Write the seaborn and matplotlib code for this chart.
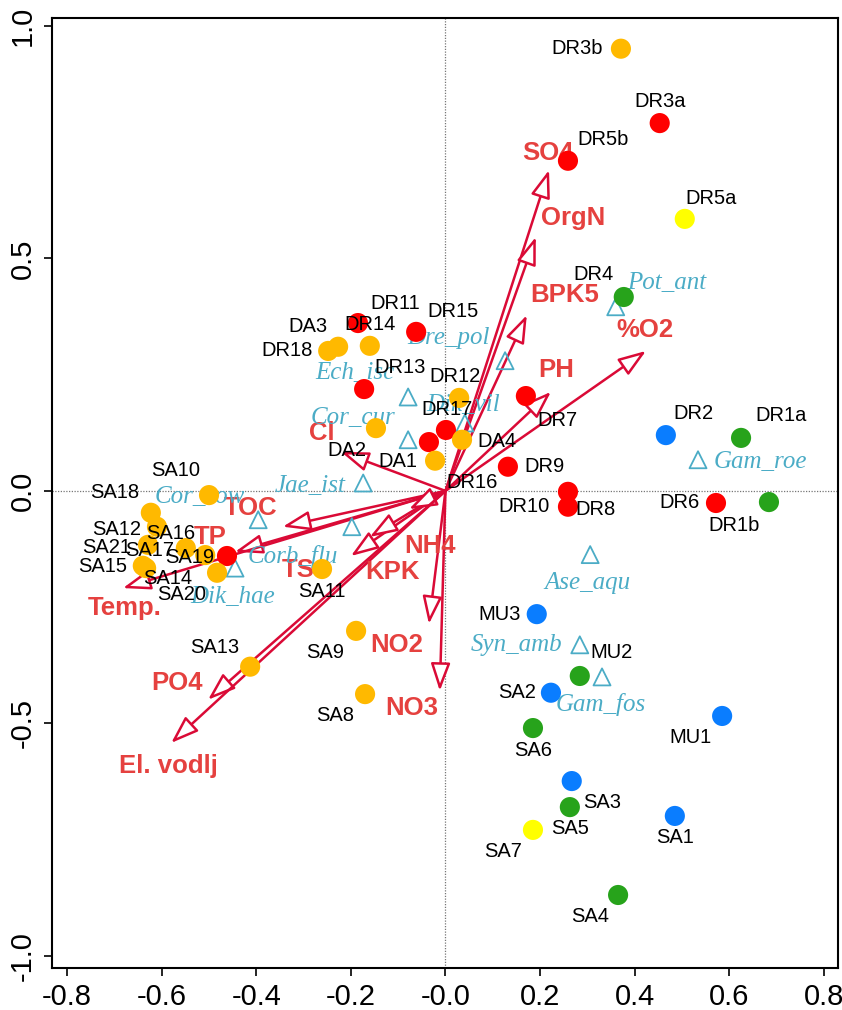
import matplotlib
matplotlib.use("Agg")
import matplotlib.pyplot as plt
import pandas as pd
import seaborn as sns

# ---------------- data ----------------
site_names = ["DR3b", "DR3a", "DR5b", "DR5a", "DR4", "DR2", "DR1a", "DR6", "DR1b", "DR7",
              "DR9", "DR8", "DR10", "DR11", "DR14", "DR18", "DA3", "DR15", "DR13", "DR12",
              "DR17", "DR16", "DA4", "DA1", "DA2", "MU3", "MU2", "SA2", "MU1", "SA6",
              "SA3", "SA5", "SA7", "SA1", "SA4", "SA8", "SA9", "SA11", "SA13", "SA10",
              "SA18", "SA12", "SA21", "SA17", "SA16", "SA19", "SA15", "SA14", "SA20"]
site_x = [0.371, 0.453, 0.259, 0.506, 0.377, 0.466, 0.625, 0.572, 0.684, 0.170,
          0.132, 0.259, 0.259, -0.185, -0.160, -0.248, -0.227, -0.062, -0.172, 0.029,
          0.001, -0.035, 0.035, -0.022, -0.147, 0.193, 0.284, 0.223, 0.585, 0.185,
          0.267, 0.263, 0.185, 0.485, 0.365, -0.170, -0.189, -0.261, -0.413, -0.500,
          -0.623, -0.610, -0.629, -0.549, -0.508, -0.462, -0.640, -0.633, -0.483]
site_y = [0.951, 0.791, 0.710, 0.585, 0.417, 0.120, 0.114, -0.026, -0.024, 0.204,
          0.052, -0.002, -0.034, 0.361, 0.312, 0.301, 0.310, 0.342, 0.219, 0.200,
          0.131, 0.105, 0.110, 0.065, 0.135, -0.265, -0.398, -0.434, -0.484, -0.510,
          -0.624, -0.680, -0.729, -0.699, -0.869, -0.437, -0.301, -0.168, -0.378, -0.009,
          -0.047, -0.077, -0.116, -0.123, -0.138, -0.140, -0.161, -0.166, -0.176]
site_group = ["1", "2", "2", "5", "4", "3", "4", "2", "4", "2",
              "2", "2", "2", "2", "1", "1", "1", "2", "2", "1",
              "2", "2", "1", "1", "1", "3", "4", "3", "3", "4",
              "3", "4", "5", "3", "4", "1", "1", "1", "1", "1",
              "1", "1", "1", "1", "1", "2", "1", "1", "1"]

species_names = ["Pot_ant", "Dre_pol", "Ech_isc", "Dik_vil", "Cor_cur", "Jae_ist", "Cor_sow",
                 "Corb_flu", "Dik_hae", "Ase_aqu", "Syn_amb", "Gam_fos", "Gam_roe"]
species_x = [0.360, 0.126, -0.079, 0.041, -0.079, -0.174, -0.396,
             -0.198, -0.445, 0.306, 0.284, 0.331, 0.534]
species_y = [0.396, 0.280, 0.202, 0.146, 0.110, 0.017, -0.062,
             -0.077, -0.166, -0.137, -0.331, -0.400, 0.067]

env_names = ["SO4", "OrgN", "BPK5", "PH", "%O2", "Cl", "TOC", "TP", "Temp.", "TS",
             "KPK", "NH4", "NO2", "NO3", "PO4", "El. vodlj"]
env_x = [0.219, 0.191, 0.172, 0.223, 0.424, -0.221, -0.344, -0.445, -0.682, -0.200,
         -0.160, -0.077, -0.035, -0.012, -0.502, -0.580]
env_y = [0.690, 0.546, 0.378, 0.213, 0.301, 0.084, -0.077, -0.131, -0.209, -0.140,
         -0.099, -0.039, -0.286, -0.430, -0.449, -0.542]

x_ticks = [-0.8, -0.6, -0.4, -0.2, 0.0, 0.2, 0.4, 0.6, 0.8]
x_tick_labels = ["-0.8", "-0.6", "-0.4", "-0.2", "-0.0", "0.2", "0.4", "0.6", "0.8"]
y_ticks = [-1.0, -0.5, 0.0, 0.5, 1.0]
y_tick_labels = ["-1.0", "-0.5", "0.0", "0.5", "1.0"]

# ---------------- layout / style ----------------
group_palette = {"1": "#FFB900", "2": "#FF0000", "3": "#0A7DFF", "4": "#27A31B", "5": "#FFFF00"}
species_color = "#4BACC6"
arrow_color = "#DA0A36"
env_text_color = "#E5413F"

# label offsets in pixels (dx, dy up) relative to the marked point
site_offsets = [(-44, 0), (0, 22), (35, 21), (26, 20), (-30, 23), (28, 22), (40, 22), (-36, 0), (-35, -23), (32, -24),
                (37, 0), (28, -18), (-44, 0), (37, 20), (0, 21), (-41, 0), (-30, 20), (37, 20), (36, 22), (-4, 21),
                (1, 20), (43, -40), (35, -2), (-37, -1), (-29, -22), (-37, 0), (32, 23), (-34, 0), (-32, -22), (0, -22),
                (30, -21), (0, -21), (-30, -22), (0, -22), (-28, -22), (-30, -21), (-31, -22), (0, -22), (-35, 19), (-33, 25),
                (-36, 20), (-40, -3), (-41, -3), (-36, -2), (-35, 22), (-37, -1), (-40, -1), (22, -10), (-35, -22)]
species_offsets = [(51, 24), (-57, 23), (-53, 24), (-2, 18), (-55, 22), (-53, -3), (-58, 23),
                   (-59, -30), (-2, -29), (-3, -28), (-63, 0), (-1, -28), (62, -2)]
env_offsets = [(-1, 17), (37, 19), (38, 20), (5, 22), (-1, 21), (-19, 19), (-32, 19), (-25, 15), (2, -20),
               (-53, -14), (23, -35), (21, -37), (-32, -21), (-28, -17), (-31, 17), (-3, -23)]

sns.set_style("ticks")
plt.rcParams["font.family"] = ["Liberation Sans", "DejaVu Sans"]

fig = plt.figure(figsize=(8.42, 10.10), dpi=100)
ax = fig.add_axes([52 / 842, 42 / 1010, 786 / 842, 950 / 1010])
ax.set_facecolor("white")

ax.set_xlim(-0.832, 0.830)
ax.set_ylim(-1.026, 1.017)

ax.axhline(0, color="#777777", lw=0.9, ls=(0, (1, 1.2)), zorder=1)
ax.axvline(0, color="#777777", lw=0.9, ls=(0, (1, 1.2)), zorder=1)

# environmental arrows
for name, ex, ey, off in zip(env_names, env_x, env_y, env_offsets):
    ax.annotate("", xy=(ex, ey), xytext=(0, 0),
                arrowprops=dict(arrowstyle="-|>,head_length=0.85,head_width=0.3",
                                mutation_scale=20, lw=1.8, ec=arrow_color, fc="white",
                                shrinkA=0, shrinkB=0),
                zorder=2)
    ax.annotate(name, xy=(ex, ey), xytext=off, textcoords="offset pixels",
                ha="center", va="center", fontsize=18.5, fontweight="bold",
                color=env_text_color, family=["Liberation Sans", "DejaVu Sans"], zorder=3)

# species
species = pd.DataFrame({"x": species_x, "y": species_y, "name": species_names})
sns.scatterplot(data=species, x="x", y="y", marker="^", s=150, color="none",
                edgecolor=species_color, linewidth=1.3, ax=ax, zorder=4, legend=False)
for name, sx, sy, off in zip(species_names, species_x, species_y, species_offsets):
    ax.annotate(name, xy=(sx, sy), xytext=off, textcoords="offset pixels",
                ha="center", va="center", fontsize=18, fontstyle="italic",
                color=species_color, family=["Liberation Serif", "DejaVu Serif"], zorder=4)

# sites
sites = pd.DataFrame({"x": site_x, "y": site_y, "group": site_group, "name": site_names})
sns.scatterplot(data=sites, x="x", y="y", hue="group", palette=group_palette, s=210,
                edgecolor="none", linewidth=0, ax=ax, zorder=5, legend=False)
for name, px, py, off in zip(site_names, site_x, site_y, site_offsets):
    ax.annotate(name, xy=(px, py), xytext=off, textcoords="offset pixels",
                ha="center", va="center", fontsize=14.5, color="black",
                family=["Liberation Sans", "DejaVu Sans"], zorder=6)

# axes styling
ax.set_xticks(x_ticks)
ax.set_xticklabels(x_tick_labels)
ax.set_yticks(y_ticks)
ax.set_yticklabels(y_tick_labels, rotation=90, va="center")
ax.set_xlabel("")
ax.set_ylabel("")
ax.tick_params(axis="both", direction="out", length=6, width=1.2, color="black",
               labelsize=21, labelcolor="black", pad=5)
for lab in ax.get_xticklabels() + ax.get_yticklabels():
    lab.set_family(["Liberation Sans Narrow", "Liberation Sans", "DejaVu Sans"])
for sp in ax.spines.values():
    sp.set_visible(True)
    sp.set_linewidth(1.5)
    sp.set_color("black")

fig.savefig("out.png", dpi=100, facecolor="white")
